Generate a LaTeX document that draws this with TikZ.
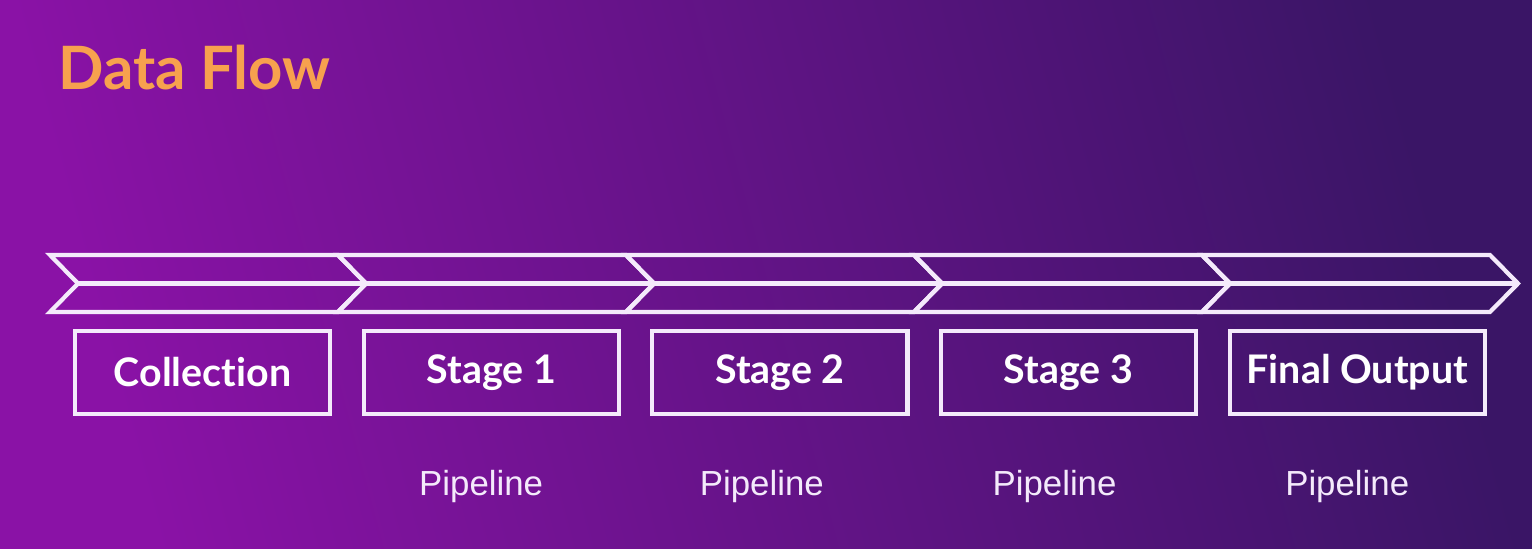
\documentclass[tikz,border=0pt]{standalone}
\usepackage{fontspec}
\setmainfont{Lato}[Ligatures={NoCommon,NoRequired,NoContextual}]
\newfontfamily\pipefont{Liberation Sans}
\usetikzlibrary{positioning}
\definecolor{bgleft}{HTML}{8A12A6}
\definecolor{bgright}{HTML}{3A1566}
\definecolor{titleorange}{HTML}{F7A14E}
\definecolor{glow}{HTML}{F4EAFB}
\def\chev{-- ++(288,0) -- ++(28,-28.5) -- ++(-28,-28.5) -- ++(-288,0) -- ++(28,28.5) -- cycle}
\tikzset{
  band/.style={draw=glow,line width=1.2pt,line join=miter},
  stagebox/.style={draw=glow,line width=1.2pt,minimum width=2.55cm,minimum height=0.83cm,
    text=white,font=\bfseries\fontsize{11.2}{13}\selectfont},
  pipe/.style={text=glow,inner sep=0pt,font=\pipefont\fontsize{9.9}{11}\selectfont},
}

\begin{document}
\begin{tikzpicture}[x=0.01cm,y=0.01cm]
  \shade[left color=bgleft,right color=bgright,shading angle=105] (0,0) rectangle (1532,548);
  \node[anchor=base west,inner sep=0pt,text=titleorange,font=\bfseries\fontsize{17}{20}\selectfont]
    (title) at (58,458) {Data Flow};
  % arrow band
  \foreach \i in {0,...,4}{
    \draw[band] (50+288*\i,293) \chev;
    \draw[band] (78+288*\i,264.5) -- (366+288*\i,264.5);
  }
  % stages
  \node[stagebox] (collection) at (202.5,175.5) {Collection};
  \node[stagebox,right=0.293cm of collection] (stage1) {Stage 1};
  \node[stagebox,right=0.293cm of stage1] (stage2) {Stage 2};
  \node[stagebox,right=0.293cm of stage2] (stage3) {Stage 3};
  \node[stagebox,right=0.293cm of stage3] (final) {Final Output};
  \node[pipe,anchor=north,below=0.53cm of stage1,xshift=-0.1cm] (pipe1) {Pipeline};
  \node[pipe,anchor=north,below=0.53cm of stage2,xshift=-0.18cm] (pipe2) {Pipeline};
  \node[pipe,anchor=north,below=0.53cm of stage3,xshift=-0.14cm] (pipe3) {Pipeline};
  \node[pipe,anchor=north,below=0.53cm of final,xshift=-0.1cm] (pipe4) {Pipeline};
\end{tikzpicture}
\end{document}
